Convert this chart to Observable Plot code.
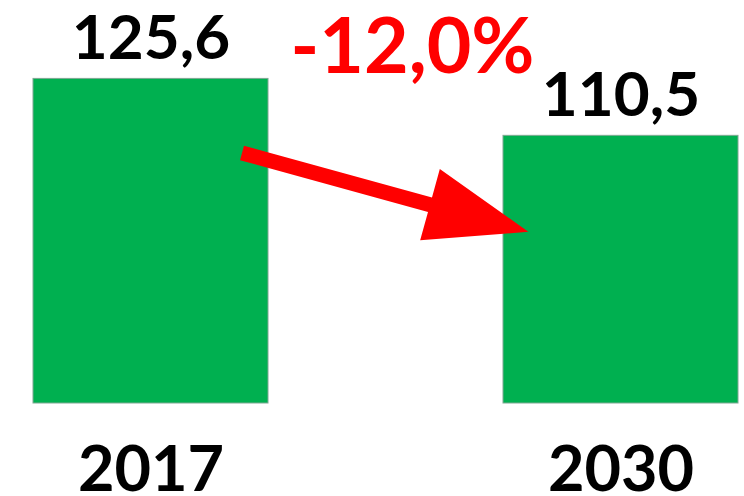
<!DOCTYPE html>
<html>
<head>
<meta charset="utf-8">
<script src="https://cdn.jsdelivr.net/npm/d3@7"></script>
<script src="https://cdn.jsdelivr.net/npm/@observablehq/plot@0.6"></script>
<style>
  html, body { margin: 0; padding: 0; background: #ffffff; }
  #chart svg { display: block; }
</style>
</head>
<body>
<div id="chart"></div>
<script>
// Data
const categories = ["2017", "2030"];
const values = [125.6, 110.5];
const changeLabel = "-12,0%";

const fmt = (v) => v.toFixed(1).replace(".", ",");
const rows = categories.map((c, i) => ({year: c, value: values[i], label: fmt(values[i])}));

// Filled arrow (shaft + triangular head), drawn pointing "up" as Plot vectors expect
const filledArrow = {
  draw(context, l) {
    const h = 102, w = 7.5, hw = 37;
    context.moveTo(-w, 0);
    context.lineTo(-w, -(l - h));
    context.lineTo(-hw, -(l - h));
    context.lineTo(0, -l);
    context.lineTo(hw, -(l - h));
    context.lineTo(w, -(l - h));
    context.lineTo(w, 0);
    context.closePath();
  }
};

const chart = Plot.plot({
  width: 744,
  height: 496,
  marginTop: 0,
  marginBottom: 93,
  marginLeft: 0,
  marginRight: 0,
  style: {fontFamily: "Lato, 'Open Sans', sans-serif", background: "#ffffff"},
  x: {type: "band", domain: categories, range: [32.3, 738.3], paddingInner: 0.5, paddingOuter: 0, axis: null},
  y: {domain: [39.5, 146.4], clamp: true, axis: null},
  marks: [
    Plot.barY(rows, {x: "year", y: "value", fill: "#00B050", stroke: "#7fa893", strokeWidth: 1}),
    Plot.text(rows, {x: "year", y: "value", text: "label", lineAnchor: "bottom", dy: -20,
      fontSize: 62, fontWeight: "bold", fill: "#000000"}),
    Plot.text(rows, {x: "year", text: "year", frameAnchor: "bottom", lineAnchor: "bottom", dy: 87,
      fontSize: 63, fontWeight: "bold", fill: "#000000"}),
    Plot.text([changeLabel], {text: (d) => d, frameAnchor: "top", lineAnchor: "bottom", dx: 40, dy: 72,
      fontSize: 77, fontWeight: "bold", fill: "#FF0000"}),
    Plot.vector([rows[0]], {x: "year", y: "value", anchor: "start", length: 297, rotate: 105.4,
      dx: 91, dy: 74, shape: filledArrow, fill: "#FF0000", stroke: "none"})
  ]
});

document.getElementById("chart").appendChild(chart);
</script>
</body>
</html>
